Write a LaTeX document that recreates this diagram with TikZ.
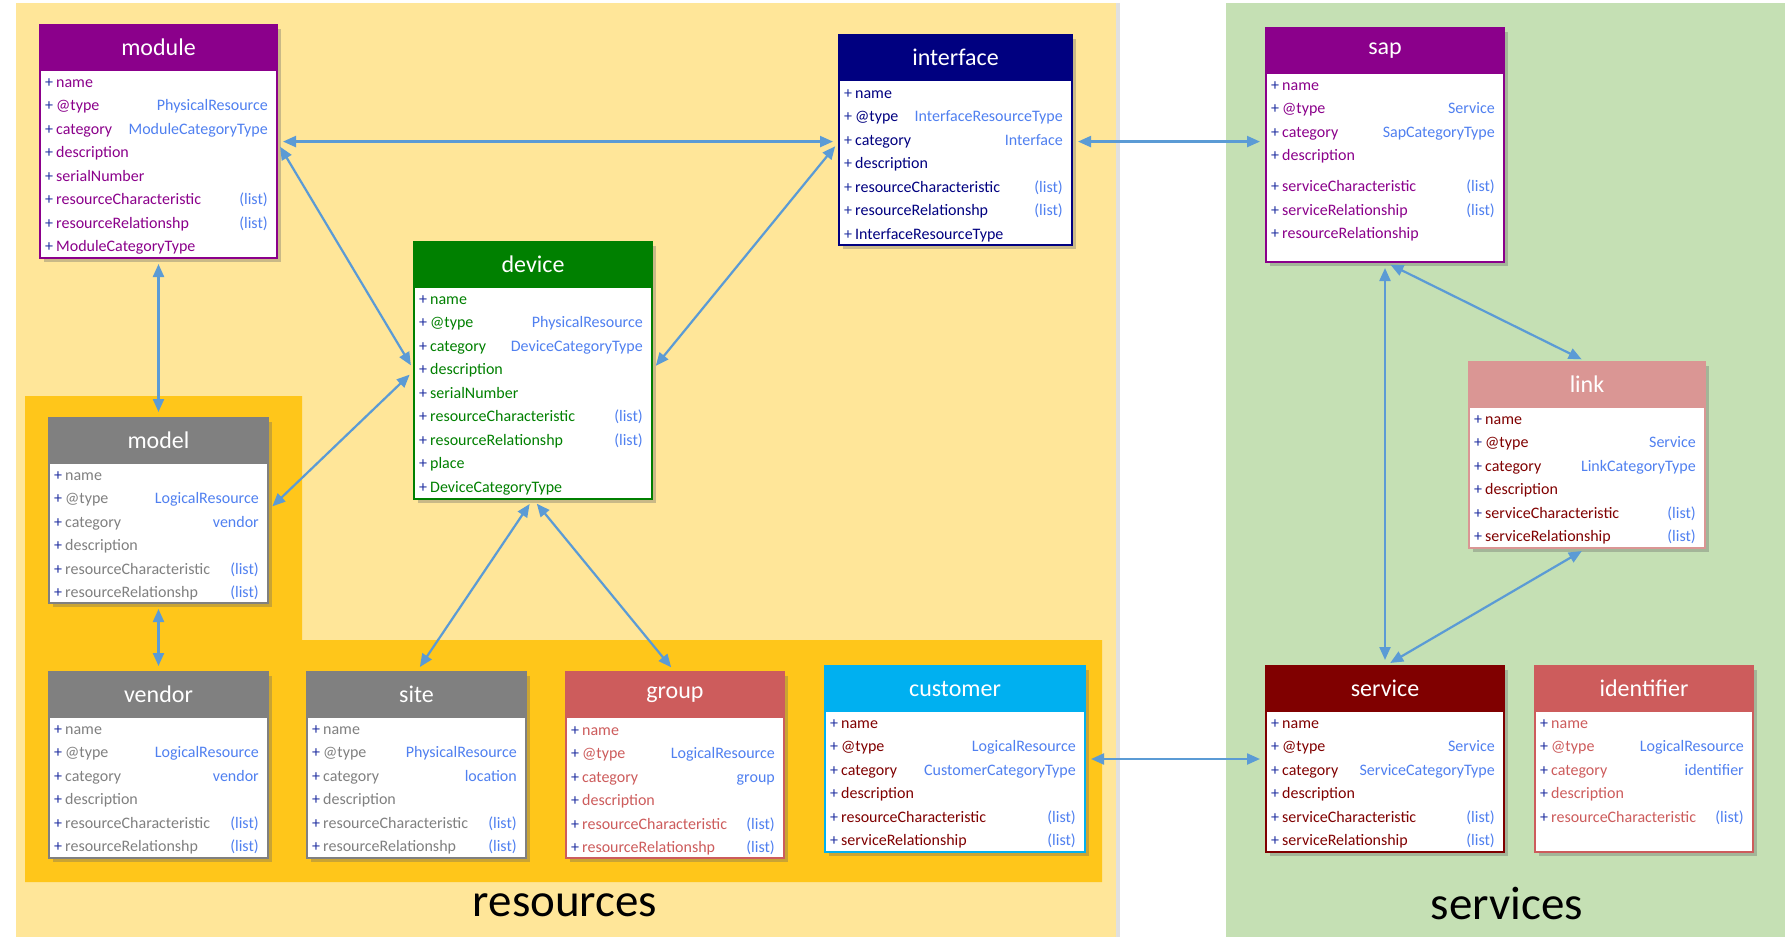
\documentclass[tikz,border=0pt]{standalone}
\usepackage{fontspec}
\setmainfont{Carlito}
\usepackage{xcolor}
\usetikzlibrary{arrows.meta,calc,shadows}

\definecolor{resyellow}{HTML}{FFE699}
\definecolor{resgold}{HTML}{FFC61A}
\definecolor{srvgreen}{HTML}{C5E0B4}
\definecolor{arrowblue}{HTML}{5B9BD5}
\definecolor{valblue}{HTML}{5080F0}
\definecolor{plusblue}{HTML}{1E2DA0}
\definecolor{purp}{HTML}{8B008B}
\definecolor{navyhd}{HTML}{000080}
\definecolor{devgreen}{HTML}{008000}
\definecolor{greyhd}{HTML}{808080}
\definecolor{indian}{HTML}{CD5C5C}
\definecolor{custblue}{HTML}{00B0F0}
\definecolor{maroonhd}{HTML}{800000}
\definecolor{linkpink}{HTML}{DA9694}

\tikzset{
  classbody/.style={anchor=north west,fill=white,line width=1.2pt,inner sep=0pt,outer sep=0pt,
    drop shadow={shadow xshift=4pt,shadow yshift=-4pt,opacity=.35,fill=black!60}},
  classhead/.style={anchor=north west,minimum height=45pt,inner sep=0pt,outer sep=0pt,
    line width=1.2pt,text=white,font=\fontsize{24}{27}\selectfont},
  rowkey/.style={anchor=base west,inner sep=0pt,font=\fontsize{16}{19}\selectfont},
  rowval/.style={anchor=base east,inner sep=0pt,text=valblue,font=\fontsize{16}{19}\selectfont},
  assoc/.style={arrowblue,line width=2.2pt,{Triangle[length=13pt,width=11pt]}-{Triangle[length=13pt,width=11pt]},
    shorten <=6pt,shorten >=6pt}
}

% box: name, left, top, width, height, colour
\newcommand\classbox[6]{%
  \node[classbody,draw=#6,minimum width=#4pt,minimum height=#5pt] (#1) at (#2,#3) {};
  \node[classhead,fill=#6,draw=#6,minimum width=#4pt] (#1-head) at (#1.north west) {#1};
}
% rows: box, text colour, first index, offset, key/value list
\newcommand\classrows[5]{%
  \foreach \attr/\kind [count=\i from #3] in {#5}{%
    \node[rowkey,text=#2] (#1-\i) at ($(#1-head.south west)+(5,{#4+(\i-#3+0.5)*23.5+5.5})$)
      {\textcolor{plusblue}{+}\hspace{3pt}\attr};
    \node[rowval] (#1-\i-v) at ($(#1-head.south east)+(-9,{#4+(\i-#3+0.5)*23.5+5.5})$) {\kind};
  }}

\begin{document}
\begin{tikzpicture}[x=1pt,y=-1pt]
\useasboundingbox (0,0) rectangle (1785,937);

% the two areas
\fill[resyellow,drop shadow={shadow xshift=4pt,shadow yshift=0pt,opacity=.2,fill=black!60}] (16,3) rectangle (1116,937);
\fill[srvgreen] (1226,3) rectangle (1785,937);
\fill[resgold] (25,396) -- (302,396) -- (302,640) -- (1102,640) -- (1102,882) -- (25,882) -- cycle;

% resources
\classbox{module}{40}{25}{237}{233}{purp}
\classrows{module}{purp}{1}{0}{name/{}, @type/PhysicalResource, category/ModuleCategoryType, description/{},
  serialNumber/{}, resourceCharacteristic/(list), resourceRelationshp/(list), ModuleCategoryType/{}}

\classbox{interface}{839}{35}{233}{210}{navyhd}
\classrows{interface}{navyhd}{1}{1}{name/{}, @type/InterfaceResourceType, category/Interface, description/{},
  resourceCharacteristic/(list), resourceRelationshp/(list), InterfaceResourceType/{}}

\classbox{device}{414}{242}{238}{257}{devgreen}
\classrows{device}{devgreen}{1}{0}{name/{}, @type/PhysicalResource, category/DeviceCategoryType, description/{},
  serialNumber/{}, resourceCharacteristic/(list), resourceRelationshp/(list), place/{}, DeviceCategoryType/{}}

\classbox{model}{49}{418}{219}{185}{greyhd}
\classrows{model}{greyhd}{1}{0}{name/{}, @type/LogicalResource, category/vendor, description/{},
  resourceCharacteristic/(list), resourceRelationshp/(list)}

\classbox{vendor}{49}{672}{219}{186}{greyhd}
\classrows{vendor}{greyhd}{1}{0}{name/{}, @type/LogicalResource, category/vendor, description/{},
  resourceCharacteristic/(list), resourceRelationshp/(list)}

\classbox{site}{307}{672}{219}{186}{greyhd}
\classrows{site}{greyhd}{1}{0}{name/{}, @type/PhysicalResource, category/location, description/{},
  resourceCharacteristic/(list), resourceRelationshp/(list)}

\classbox{group}{566}{672}{218}{186}{indian}
\classrows{group}{indian}{1}{1}{name/{}, @type/LogicalResource, category/group, description/{},
  resourceCharacteristic/(list), resourceRelationshp/(list)}

\classbox{customer}{825}{666}{260}{186}{custblue}
\classrows{customer}{maroonhd}{1}{0}{name/{}, @type/LogicalResource, category/CustomerCategoryType, description/{},
  resourceCharacteristic/(list), serviceRelationship/(list)}

% services
\classbox{sap}{1266}{28}{238}{234}{purp}
\classrows{sap}{purp}{1}{0}{name/{}, @type/Service, category/SapCategoryType, description/{}}
\classrows{sap}{purp}{5}{101.5}{serviceCharacteristic/(list), serviceRelationship/(list), resourceRelationship/{}}

\classbox{link}{1469}{362}{236}{186}{linkpink}
\classrows{link}{maroonhd}{1}{0}{name/{}, @type/Service, category/LinkCategoryType, description/{},
  serviceCharacteristic/(list), serviceRelationship/(list)}

\classbox{service}{1266}{666}{238}{186}{maroonhd}
\classrows{service}{maroonhd}{1}{0}{name/{}, @type/Service, category/ServiceCategoryType, description/{},
  serviceCharacteristic/(list), serviceRelationship/(list)}

\classbox{identifier}{1535}{666}{218}{186}{indian}
\classrows{identifier}{indian}{1}{0}{name/{}, @type/LogicalResource, category/identifier, description/{},
  resourceCharacteristic/(list)}

% associations
\draw[assoc] (module.east |- interface-3) -- (interface.west |- interface-3);
\draw[assoc] (module.east |- interface-3) -- (device.west |- device-4);
\draw[assoc] (interface.west |- interface-3) -- (device.east |- device-4);
\draw[assoc] (module.south) -- (model.north);
\draw[assoc] (model.east) -- (device.west |- device-4);
\draw[assoc] (model.south) -- (vendor.north);
\draw[assoc] (device.south) -- (site.north);
\draw[assoc] (device.south) -- (group.north);
\draw[assoc] (interface.east |- interface-3) -- (sap.west |- interface-3);
\draw[assoc] (sap.south) -- (service.north);
\draw[assoc] (sap.south) -- (link.north);
\draw[assoc] (link.south) -- (service.north);
\draw[assoc] (customer.east) -- (service.west);

\node[font=\fontsize{47}{52}\selectfont] (resLabel) at (565,905) {resources};
\node[font=\fontsize{47}{52}\selectfont] (srvLabel) at (1507,903) {services};
\end{tikzpicture}
\end{document}
